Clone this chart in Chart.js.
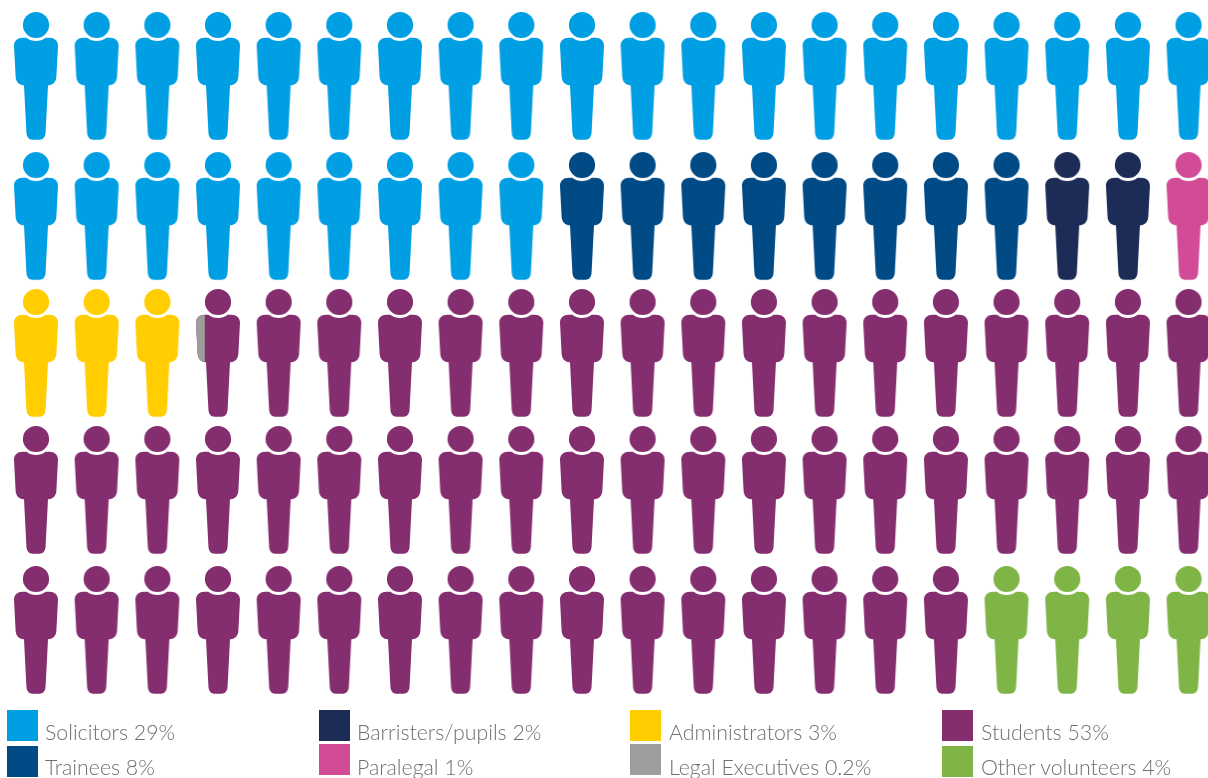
<!DOCTYPE html>
<html>
<head>
<meta charset="utf-8">
<script src="https://cdn.jsdelivr.net/npm/chart.js@4/dist/chart.umd.js"></script>
<style>
html,body{margin:0;padding:0;background:#fff;width:1208px;height:778px;overflow:hidden}
#wrap{position:relative;width:1208px;height:778px}
#c{position:absolute;left:0;top:0}
.sw{position:absolute;width:31px;height:31px}
.lb{position:absolute;font-family:Lato,sans-serif;font-weight:300;font-size:21.3px;line-height:24px;color:#6f6f6f;white-space:nowrap}
</style>
</head>
<body>
<div id="wrap"><canvas id="c" width="1208" height="778"></canvas></div>
<script>
const categories = ["Solicitors","Trainees","Barristers/pupils","Paralegal","Administrators","Legal Executives","Students","Other volunteers"];
const percentages = [29,8,2,1,3,0.2,53,4];
const colours = ["#009FE3","#004A85","#1D2C57","#D24B96","#FFCD00","#9D9D9C","#842E70","#7FB546"];

// layout
const perRow = 20, colStep = 60.66, firstX = 36, firstY = 76, rowStep = 138.5;
const rowPlace = [0,1.011,2,2.989,4];
const legendX = [[7,45],[319,357],[630,669],[942,981]];
const legendY = [[710,746],[710,744],[710,744],[710,746]];
const legendTextY = [720,755];

function personPath(){
  const p = new Path2D();
  const cx = 22;
  p.arc(cx,12.7,13.1,0,Math.PI*2);
  p.closePath();
  const a = Math.atan2(12.7,9.6);
  p.moveTo(8.5,25.4);
  p.lineTo(12.4,25.4);
  p.arc(cx,12.7,16,Math.PI-a,a,true);
  p.lineTo(35.5,25.4);
  p.bezierCurveTo(40.5,25.4,44,28.5,44,33.5);
  p.lineTo(42.4,64);
  p.bezierCurveTo(42.2,69.5,39,73,34.6,73);
  p.lineTo(34,73);
  p.lineTo(31.6,120);
  p.bezierCurveTo(31.4,125,29,127.4,25.5,127.4);
  p.lineTo(18.5,127.4);
  p.bezierCurveTo(15,127.4,12.6,125,12.4,120);
  p.lineTo(10,73);
  p.lineTo(9.4,73);
  p.bezierCurveTo(5,73,1.8,69.5,1.6,64);
  p.lineTo(0,33.5);
  p.bezierCurveTo(0,28.5,3.5,25.4,8.5,25.4);
  p.closePath();
  return p;
}
const shape = personPath();

function figure(colour, fraction){
  const cv = document.createElement('canvas');
  cv.width = 48; cv.height = 132;
  const g = cv.getContext('2d');
  g.translate(2,2.3);
  if (fraction < 1){
    g.beginPath(); g.rect(0,0,44*fraction,128); g.clip();
  }
  g.fillStyle = colour;
  g.fill(shape);
  return cv;
}

let cursor = 0;
const datasets = [];
categories.forEach((name,i)=>{
  const whole = Math.floor(percentages[i]);
  const part = percentages[i]-whole;
  const at = n => ({x:n%perRow, y:rowPlace[Math.floor(n/perRow)]});
  if (whole>0){
    const pts=[];
    for(let k=0;k<whole;k++) pts.push(at(cursor+k));
    datasets.push({label:name,data:pts,pointStyle:figure(colours[i],1),pointRadius:22,pointHoverRadius:22,backgroundColor:colours[i],showLine:false,order:1});
    cursor += whole;
  } else {
    // a fraction of a person overlays the next figure without taking a place
    datasets.push({label:name,data:[at(cursor)],pointStyle:figure(colours[i],part),pointRadius:22,pointHoverRadius:22,backgroundColor:colours[i],showLine:false,order:0});
  }
});

new Chart(document.getElementById('c'),{
  type:'scatter',
  data:{datasets},
  options:{
    responsive:false,
    animation:false,
    layout:{padding:0,autoPadding:false},
    plugins:{legend:{display:false},tooltip:{enabled:false}},
    events:[],
    scales:{
      x:{type:'linear',display:false,min:-firstX/colStep,max:(1208-firstX)/colStep},
      y:{type:'linear',display:false,reverse:true,min:-firstY/rowStep,max:(778-firstY)/rowStep}
    }
  }
});

const wrap=document.getElementById('wrap');
categories.forEach((name,i)=>{
  const col=Math.floor(i/2), row=i%2;
  const s=document.createElement('div');
  s.className='sw';
  s.style.left=legendX[col][0]+'px';
  s.style.top=legendY[col][row]+'px';
  s.style.background=colours[i];
  wrap.appendChild(s);
  const t=document.createElement('div');
  t.className='lb';
  t.style.left=legendX[col][1]+'px';
  t.style.top=legendTextY[row]+'px';
  t.textContent=name+' '+percentages[i]+'%';
  wrap.appendChild(t);
});
</script>
</body>
</html>
